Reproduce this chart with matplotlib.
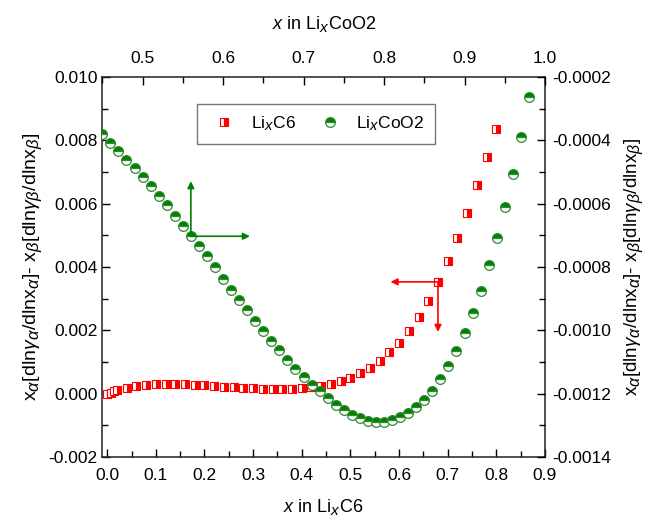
import matplotlib
matplotlib.use("Agg")
import matplotlib.pyplot as plt
import matplotlib._mathtext as _mt
from matplotlib.ticker import MultipleLocator, FormatStrFormatter

_mt.SHRINK_FACTOR = 0.85

plt.rcParams['font.family'] = ['Liberation Sans', 'DejaVu Sans']
plt.rcParams['mathtext.fontset'] = 'custom'
plt.rcParams['mathtext.rm'] = 'Liberation Sans'
plt.rcParams['mathtext.it'] = 'Liberation Sans:italic'
plt.rcParams['mathtext.sf'] = 'Liberation Sans'
plt.rcParams['axes.unicode_minus'] = False

# LixC6 (bottom / left axes)
x_c6 = [0.0, 0.007, 0.014, 0.02, 0.04, 0.06, 0.08, 0.10, 0.12, 0.14, 0.16, 0.18, 0.20,
        0.22, 0.24, 0.26, 0.28, 0.30, 0.32, 0.34, 0.36, 0.38, 0.40, 0.42, 0.44, 0.46,
        0.48, 0.50, 0.52, 0.54, 0.56, 0.58, 0.60, 0.62, 0.64, 0.66, 0.68, 0.70, 0.72,
        0.74, 0.76, 0.78, 0.80]
y_c6 = [0.0, 0.00003, 0.00008, 0.00013, 0.00019, 0.00025, 0.00028, 0.00031, 0.00031,
        0.00031, 0.00030, 0.00027, 0.00026, 0.00024, 0.00022, 0.00020, 0.00018, 0.00017,
        0.00016, 0.00015, 0.00015, 0.00016, 0.00018, 0.00021, 0.00025, 0.00030, 0.00040,
        0.00050, 0.00064, 0.00082, 0.00103, 0.00130, 0.00161, 0.00199, 0.00243, 0.00294,
        0.00353, 0.00420, 0.00492, 0.00572, 0.00658, 0.00746, 0.00836]

# LixCoO2 (top / right axes)
x_coo2 = [0.45, 0.46, 0.47, 0.48, 0.49, 0.50, 0.51, 0.52, 0.53, 0.54, 0.55, 0.56, 0.57,
          0.58, 0.59, 0.60, 0.61, 0.62, 0.63, 0.64, 0.65, 0.66, 0.67, 0.68, 0.69, 0.70,
          0.71, 0.72, 0.73, 0.74, 0.75, 0.76, 0.77, 0.78, 0.79, 0.80, 0.81, 0.82, 0.83,
          0.84, 0.85, 0.86, 0.87, 0.88, 0.89, 0.90, 0.91, 0.92, 0.93, 0.94, 0.95, 0.96,
          0.97, 0.98]
y_coo2 = [-0.000379, -0.000407, -0.000434, -0.000461, -0.000487, -0.000516, -0.000544,
          -0.000575, -0.000605, -0.000638, -0.000670, -0.000703, -0.000735, -0.000766,
          -0.000800, -0.000837, -0.000872, -0.000905, -0.000937, -0.000970, -0.001002,
          -0.001034, -0.001063, -0.001093, -0.001121, -0.001148, -0.001172, -0.001193,
          -0.001215, -0.001236, -0.001253, -0.001266, -0.001277, -0.001285, -0.001289,
          -0.001289, -0.001284, -0.001275, -0.001261, -0.001243, -0.001219, -0.001192,
          -0.001155, -0.001112, -0.001064, -0.001009, -0.000946, -0.000876, -0.000795,
          -0.000708, -0.000610, -0.000505, -0.000390, -0.000263]

label_c6 = r'Li$_{x}$C6'
label_coo2 = r'Li$_{x}$CoO2'
ylab = (r'x$_{\alpha}$[dln$\gamma_{\alpha}$/dlnx$_{\alpha}$]- '
        r'x$_{\beta}$[dln$\gamma_{\beta}$/dlnx$_{\beta}$]')

fig = plt.figure(figsize=(6.53, 5.18), dpi=100)
pos = [0.1567, 0.1178, 0.6779, 0.7336]
ax = fig.add_axes(pos)
ax2 = fig.add_axes(pos, frameon=False)

red = '#ff0000'
green = '#008000'

l1, = ax.plot(x_c6, y_c6, linestyle='none', marker='s', markersize=6.3,
              fillstyle='right', markerfacecolor=red, markerfacecoloralt='white',
              markeredgecolor=red, markeredgewidth=0.8, label=label_c6)
l2, = ax2.plot(x_coo2, y_coo2, linestyle='none', marker='o', markersize=7,
               fillstyle='top', markerfacecolor=green, markerfacecoloralt='white',
               markeredgecolor='#2e8b2e', markeredgewidth=0.9, label=label_coo2)

ax.set_xlim(-0.01, 0.9)
ax.set_ylim(-0.002, 0.010)
ax2.set_xlim(0.45, 1.0)
ax2.set_ylim(-0.0014, -0.0002)

ax.xaxis.set_major_locator(MultipleLocator(0.1))
ax.xaxis.set_minor_locator(MultipleLocator(0.05))
ax.yaxis.set_major_locator(MultipleLocator(0.002))
ax.yaxis.set_minor_locator(MultipleLocator(0.001))
ax.xaxis.set_major_formatter(FormatStrFormatter('%.1f'))
ax.yaxis.set_major_formatter(FormatStrFormatter('%.3f'))

ax2.xaxis.set_major_locator(MultipleLocator(0.1))
ax2.xaxis.set_minor_locator(MultipleLocator(0.05))
ax2.yaxis.set_major_locator(MultipleLocator(0.0002))
ax2.yaxis.set_minor_locator(MultipleLocator(0.0001))
ax2.xaxis.set_major_formatter(FormatStrFormatter('%.1f'))
ax2.yaxis.set_major_formatter(FormatStrFormatter('%.4f'))
ax2.xaxis.tick_top()
ax2.yaxis.tick_right()
ax2.xaxis.set_label_position('top')
ax2.yaxis.set_label_position('right')

for a in (ax, ax2):
    a.tick_params(which='major', direction='in', length=6, width=1, labelsize=12.5)
    a.tick_params(which='minor', direction='in', length=4, width=1)
ax.tick_params(which='both', top=False, right=False)
ax2.tick_params(which='both', bottom=False, left=False)
ax.tick_params(axis='x', which='major', pad=8)
ax.tick_params(axis='y', which='major', pad=3.5)
ax2.tick_params(axis='x', which='major', pad=8)
ax2.tick_params(axis='y', which='major', pad=5)

for s in ax.spines.values():
    s.set_linewidth(1.1)
    s.set_color('#222222')

ax.set_xlabel(r'$x$ in Li$_{x}$C6', fontsize=13, labelpad=10)
ax2.set_xlabel(r'$x$ in Li$_{x}$CoO2', fontsize=13, labelpad=16)
ax.set_ylabel(ylab, fontsize=14, labelpad=3)
ax2.set_ylabel(ylab, fontsize=13.5, labelpad=8, rotation=90)

# arrows
arrow_g = dict(arrowstyle='-|>', color=green, lw=1.2, mutation_scale=10, shrinkA=0, shrinkB=0)
arrow_r = dict(arrowstyle='-|>', color=red, lw=1.2, mutation_scale=10, shrinkA=0, shrinkB=0)
ax2.annotate('', xy=(0.56, -0.000529), xytext=(0.56, -0.000703), arrowprops=arrow_g)
ax2.annotate('', xy=(0.6334, -0.000703), xytext=(0.56, -0.000703), arrowprops=arrow_g)
ax.annotate('', xy=(0.5824, 0.00353), xytext=(0.68, 0.00353), arrowprops=arrow_r)
ax.annotate('', xy=(0.68, 0.00195), xytext=(0.68, 0.00353), arrowprops=arrow_r)

leg = ax2.legend(handles=[l1, l2], ncol=2, loc='upper left',
                 bbox_to_anchor=(196.7 / 653, (518 - 104) / 518),
                 bbox_transform=fig.transFigure, fontsize=12.5, frameon=True,
                 fancybox=False, edgecolor='#555555', handlelength=2.0,
                 handletextpad=0.5, columnspacing=1.0, borderpad=0.6,
                 numpoints=1, borderaxespad=0)
leg.get_frame().set_linewidth(1.0)

fig.savefig('out.png', dpi=100)
